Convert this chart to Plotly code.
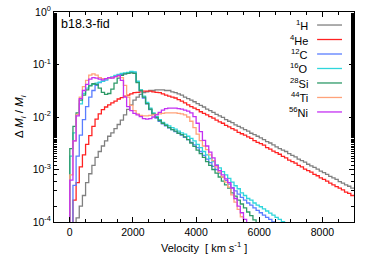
import plotly.graph_objects as go

# ---------------- data ----------------
velocity_edges = list(range(0, 9100, 100))  # km/s, bin edges (100 km/s bins)

species = ["<sup>1</sup>H", "<sup>4</sup>He", "<sup>12</sup>C", "<sup>16</sup>O",
           "<sup>28</sup>Si", "<sup>44</sup>Ti", "<sup>56</sup>Ni"]

H = [1e-5, 1e-5, 1.2e-4, 2.0e-4, 3.2e-4, 5.6e-4, 8.3e-4, 1.2e-3, 1.7e-3, 2.2e-3,
     2.8e-3, 3.5e-3, 4.3e-3, 5.0e-3, 6.0e-3, 7.2e-3, 8.7e-3, 1.1e-2, 1.4e-2, 1.7e-2,
     2.1e-2, 2.4e-2, 2.7e-2, 2.9e-2, 3.0e-2, 3.2e-2, 3.2e-2, 3.3e-2, 3.3e-2, 3.3e-2,
     3.2e-2, 3.2e-2, 3.0e-2, 2.9e-2, 2.75e-2, 2.6e-2, 2.4e-2, 2.24e-2, 2.1e-2, 1.95e-2,
     1.8e-2, 1.66e-2, 1.55e-2, 1.41e-2, 1.32e-2, 1.23e-2, 1.12e-2, 1.05e-2, 9.8e-3, 8.9e-3,
     8.3e-3, 7.8e-3, 7.1e-3, 6.6e-3, 6.2e-3, 5.75e-3, 5.4e-3, 4.9e-3, 4.6e-3, 4.3e-3,
     4.0e-3, 3.7e-3, 3.4e-3, 3.2e-3, 2.95e-3, 2.7e-3, 2.5e-3, 2.34e-3, 2.2e-3, 2.0e-3,
     1.86e-3, 1.74e-3, 1.58e-3, 1.48e-3, 1.38e-3, 1.26e-3, 1.17e-3, 1.1e-3, 1.02e-3, 9.3e-4,
     8.7e-4, 8.1e-4, 7.4e-4, 6.9e-4, 6.5e-4, 5.9e-4, 5.5e-4, 5.1e-4, 4.8e-4, 4.4e-4]

He = [1e-5, 2.6e-4, 5.6e-4, 1.12e-3, 1.9e-3, 3.0e-3, 4.4e-3, 6.6e-3, 9.1e-3, 1.15e-2,
      1.38e-2, 1.55e-2, 1.7e-2, 1.86e-2, 2.0e-2, 2.2e-2, 2.34e-2, 2.5e-2, 2.6e-2, 2.75e-2,
      2.9e-2, 2.95e-2, 3.0e-2, 3.1e-2, 3.1e-2, 3.1e-2, 3.0e-2, 2.95e-2, 2.9e-2, 2.75e-2,
      2.6e-2, 2.5e-2, 2.4e-2, 2.3e-2, 2.14e-2, 2.0e-2, 1.86e-2, 1.7e-2, 1.58e-2, 1.48e-2,
      1.38e-2, 1.26e-2, 1.17e-2, 1.1e-2, 1.02e-2, 9.5e-3, 8.7e-3, 8.1e-3, 7.6e-3, 6.9e-3,
      6.5e-3, 6.0e-3, 5.6e-3, 5.1e-3, 4.8e-3, 4.5e-3, 4.2e-3, 3.9e-3, 3.55e-3, 3.3e-3,
      3.1e-3, 2.9e-3, 2.6e-3, 2.45e-3, 2.24e-3, 2.1e-3, 1.95e-3, 1.78e-3, 1.66e-3, 1.51e-3,
      1.41e-3, 1.32e-3, 1.2e-3, 1.12e-3, 1.02e-3, 9.5e-4, 8.9e-4, 8.1e-4, 7.6e-4, 6.9e-4,
      6.5e-4, 6.0e-4, 5.5e-4, 5.1e-4, 4.7e-4, 4.4e-4, 4.1e-4, 3.7e-4, 3.5e-4, 3.2e-4]

C = [1e-5, 5.0e-4, 1.8e-3, 4.5e-3, 8.9e-3, 1.58e-2, 2.4e-2, 3.2e-2, 4.0e-2, 4.5e-2,
     4.8e-2, 5.1e-2, 5.5e-2, 5.75e-2, 6.0e-2, 6.3e-2, 6.5e-2, 6.6e-2, 6.8e-2, 7.1e-2,
     7.1e-2, 4.6e-2, 3.2e-2, 2.3e-2, 1.78e-2, 1.38e-2, 1.12e-2, 9.5e-3, 8.3e-3, 7.4e-3,
     6.8e-3, 6.2e-3, 5.75e-3, 5.25e-3, 4.9e-3, 4.5e-3, 4.1e-3, 3.7e-3, 3.3e-3, 2.95e-3,
     2.6e-3, 2.2e-3, 1.86e-3, 1.58e-3, 1.35e-3, 1.15e-3, 1.0e-3, 8.5e-4, 7.2e-4, 6.2e-4,
     5.25e-4, 4.5e-4, 3.9e-4, 3.4e-4, 2.95e-4, 2.6e-4, 2.3e-4, 2.1e-4, 1.86e-4, 1.66e-4,
     1.5e-4, 1.35e-4, 1.23e-4, 1.12e-4, 1.0e-4, 8.9e-5]

O = [1.8e-3, 5.0e-3, 1.12e-2, 1.78e-2, 2.8e-2, 3.55e-2, 4.0e-2, 4.2e-2, 4.4e-2, 4.6e-2,
     4.8e-2, 5.1e-2, 5.5e-2, 5.75e-2, 6.2e-2, 6.5e-2, 6.8e-2, 6.9e-2, 7.1e-2, 7.4e-2,
     7.2e-2, 4.8e-2, 3.3e-2, 2.5e-2, 1.9e-2, 1.48e-2, 1.2e-2, 1.02e-2, 8.9e-3, 7.9e-3,
     7.2e-3, 6.8e-3, 6.3e-3, 5.9e-3, 5.4e-3, 5.0e-3, 4.7e-3, 4.3e-3, 3.9e-3, 3.5e-3,
     3.0e-3, 2.6e-3, 2.2e-3, 1.9e-3, 1.62e-3, 1.41e-3, 1.23e-3, 1.07e-3, 9.1e-4, 7.9e-4,
     6.8e-4, 5.75e-4, 4.9e-4, 4.3e-4, 3.6e-4, 3.2e-4, 2.8e-4, 2.6e-4, 2.3e-4, 2.1e-4,
     1.95e-4, 1.78e-4, 1.62e-4, 1.48e-4, 1.35e-4, 1.23e-4, 1.12e-4, 1.02e-4, 9.3e-5, 8.5e-5]

Si = [2.5e-3, 6.6e-3, 1.2e-2, 2.1e-2, 2.6e-2, 3.3e-2, 3.9e-2, 4.3e-2, 4.2e-2, 3.55e-2,
      2.95e-2, 2.7e-2, 2.8e-2, 3.4e-2, 4.4e-2, 5.5e-2, 6.2e-2, 6.6e-2, 6.8e-2, 6.9e-2,
      6.8e-2, 4.5e-2, 3.2e-2, 2.4e-2, 1.8e-2, 1.41e-2, 1.15e-2, 9.8e-3, 8.5e-3, 7.6e-3,
      6.9e-3, 6.3e-3, 5.75e-3, 5.4e-3, 4.9e-3, 4.6e-3, 4.2e-3, 3.7e-3, 3.2e-3, 2.75e-3,
      2.34e-3, 2.0e-3, 1.7e-3, 1.41e-3, 1.2e-3, 1.0e-3, 8.5e-4, 7.2e-4, 6.0e-4, 5.1e-4,
      4.4e-4, 3.6e-4, 3.1e-4, 2.6e-4, 2.2e-4, 1.86e-4, 1.55e-4, 1.32e-4, 1.1e-4, 9.1e-5]

Ti = [7.9e-4, 3.5e-3, 1.12e-2, 2.4e-2, 3.8e-2, 5.0e-2, 6.3e-2, 6.6e-2, 6.3e-2, 5.6e-2,
      5.4e-2, 5.4e-2, 5.5e-2, 5.6e-2, 5.9e-2, 6.0e-2, 5.6e-2, 4.0e-2, 2.4e-2, 1.66e-2,
      1.32e-2, 1.15e-2, 1.07e-2, 1.05e-2, 1.05e-2, 1.07e-2, 1.1e-2, 1.12e-2, 1.15e-2, 1.17e-2,
      1.2e-2, 1.2e-2, 1.2e-2, 1.2e-2, 1.17e-2, 1.15e-2, 1.1e-2, 1.0e-2, 8.3e-3, 6.3e-3,
      4.7e-3, 3.55e-3, 2.8e-3, 2.4e-3, 1.9e-3, 1.48e-3, 1.12e-3, 8.9e-4, 7.2e-4, 5.75e-4,
      4.6e-4, 3.3e-4, 2.4e-4, 1.74e-4, 1.26e-4, 8.9e-5]

Ni = [6.3e-4, 3.5e-3, 1.05e-2, 2.24e-2, 3.2e-2, 4.2e-2, 5.25e-2, 5.6e-2, 5.5e-2, 5.25e-2,
      5.1e-2, 5.4e-2, 5.6e-2, 5.5e-2, 5.9e-2, 6.2e-2, 5.0e-2, 2.4e-2, 1.58e-2, 1.32e-2,
      1.17e-2, 1.1e-2, 1.02e-2, 9.3e-3, 9.1e-3, 9.3e-3, 1.0e-2, 1.1e-2, 1.23e-2, 1.35e-2,
      1.45e-2, 1.48e-2, 1.48e-2, 1.48e-2, 1.45e-2, 1.41e-2, 1.35e-2, 1.29e-2, 1.2e-2, 1.02e-2,
      7.6e-3, 5.25e-3, 3.6e-3, 2.8e-3, 2.14e-3, 1.66e-3, 1.2e-3, 9.5e-4, 7.9e-4, 6.6e-4,
      5.6e-4, 4.4e-4, 2.8e-4, 2.0e-4, 1.5e-4, 1.12e-4, 8e-5]

series = [H, He, C, O, Si, Ti, Ni]
colors = ["#808080", "#ff2222", "#5a7dff", "#2fd6dc", "#2e9a68", "#ffa27a", "#c430f2"]

y_tickvals = [1e-4, 1e-3, 1e-2, 1e-1, 1]
y_ticktext = ["10<sup>-4</sup>", "10<sup>-3</sup>", "10<sup>-2</sup>", "10<sup>-1</sup>", "10<sup>0</sup>"]
x_tickvals = [0, 2000, 4000, 6000, 8000]

FLOOR = 1e-6
FONT = "Liberation Sans, Arial, Helvetica, sans-serif"

fig = go.Figure()
for name, vals, col in zip(species, series, colors):
    n = len(vals)
    xs = [velocity_edges[0]] + velocity_edges[:n + 1]
    ys = [FLOOR] + list(vals) + [vals[-1]]
    fig.add_trace(go.Scatter(x=xs, y=ys, mode="lines", name=name,
                             line=dict(color=col, width=1.3, shape="hv"),
                             showlegend=False, hoverinfo="skip"))

# manual legend: label right-aligned, line sample to the right
leg_x_text = 0.853
leg_x0, leg_x1 = 0.877, 0.96
leg_y0, leg_dy = 0.938, 0.069
for i, (name, col) in enumerate(zip(species, colors)):
    yy = leg_y0 - i * leg_dy
    fig.add_annotation(x=leg_x_text, y=yy, xref="paper", yref="paper", text=name,
                       showarrow=False, xanchor="right", yanchor="middle",
                       font=dict(size=11, color="black", family=FONT))
    fig.add_shape(type="line", xref="paper", yref="paper", x0=leg_x0, x1=leg_x1,
                  y0=yy, y1=yy, line=dict(color=col, width=1.3))

fig.add_annotation(x=0.015, y=0.985, xref="paper", yref="paper", text="b18.3-fid",
                   showarrow=False, xanchor="left", yanchor="top",
                   font=dict(size=12.5, color="black", family=FONT))

# axis titles as annotations for exact placement
fig.add_annotation(x=0.5, y=-0.12, xref="paper", yref="paper",
                   text="Velocity  [ km s<sup>-1</sup> ]", showarrow=False,
                   xanchor="center", yanchor="middle",
                   font=dict(size=11, color="black", family=FONT))
fig.add_annotation(x=-0.113, y=0.5, xref="paper", yref="paper",
                   text="\u0394 <i>M<sub>i</sub></i> / <i>M<sub>i</sub></i>",
                   showarrow=False, textangle=-90, xanchor="center", yanchor="middle",
                   font=dict(size=11.5, color="black", family=FONT))

axis_common = dict(showline=True, linecolor="black", linewidth=1, mirror="allticks",
                   ticks="inside", tickcolor="black", showgrid=False, zeroline=False,
                   automargin=False,
                   tickfont=dict(size=10.5, color="black", family=FONT))

fig.update_xaxes(range=[-500, 9000], tickvals=x_tickvals, ticklen=5,
                 minor=dict(dtick=500, ticks="inside", ticklen=3, tickcolor="black"),
                 **axis_common)
fig.update_yaxes(type="log", range=[-4, 0], tickvals=y_tickvals, ticktext=y_ticktext,
                 ticklen=5,
                 minor=dict(ticks="inside", ticklen=3, tickcolor="black", showgrid=False),
                 **axis_common)

fig.update_layout(width=382, height=267, margin=dict(l=54, r=28, t=12, b=45),
                  plot_bgcolor="white", paper_bgcolor="white", showlegend=False)

fig.write_html("out.html", config={"displayModeBar": False},
               post_script="document.body.style.margin='0';document.body.style.padding='0';")
